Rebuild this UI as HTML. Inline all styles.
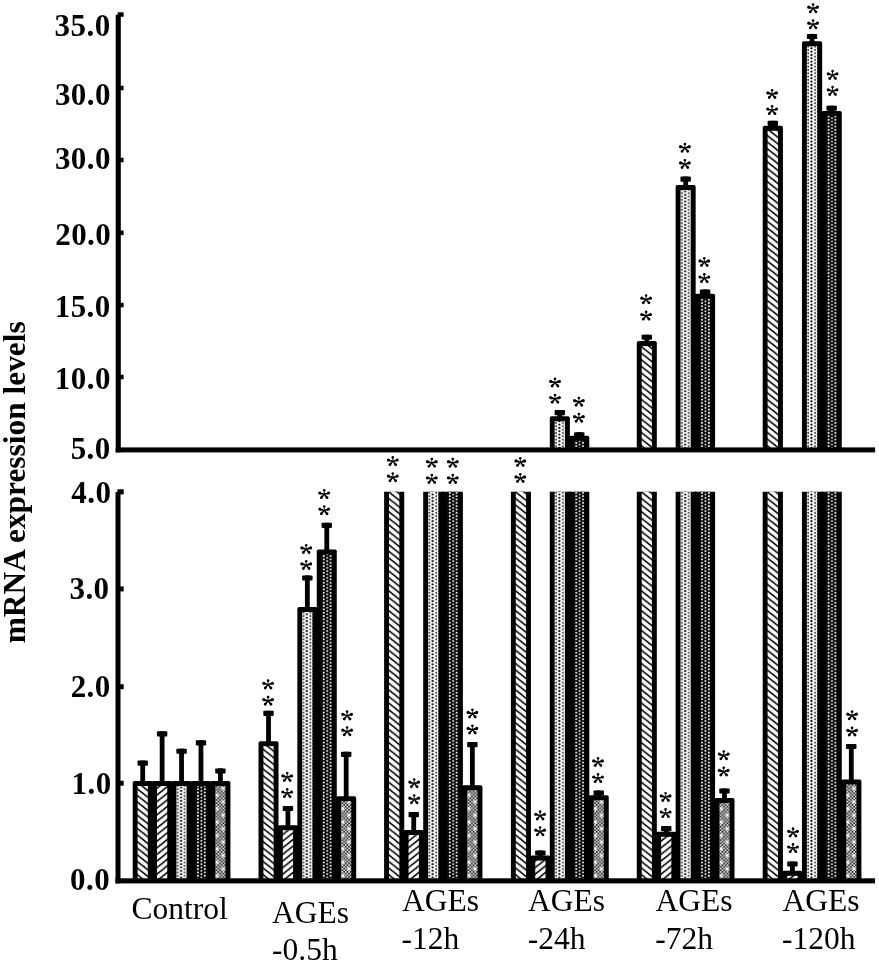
<!DOCTYPE html>
<html><head><meta charset="utf-8"><title>mRNA expression levels</title>
<style>html,body{margin:0;padding:0;background:#fff;}body{width:879px;height:964px;position:relative;overflow:hidden;font-family:"Liberation Serif",serif;}</style>
</head><body>
<svg width="879" height="964" viewBox="0 0 879 964" style="position:absolute;left:0;top:0;will-change:transform">
<defs>
<pattern id="p1" patternUnits="userSpaceOnUse" width="8.25" height="6.6"><rect width="8.25" height="6.6" fill="#fff"/><path d="M-8.25 -6.6L16.5 13.2M-8.25 0L8.25 13.2M0 -6.6L16.5 6.6" stroke="#000" stroke-width="1.65"/></pattern>
<pattern id="p2" patternUnits="userSpaceOnUse" width="8.25" height="6.6"><rect width="8.25" height="6.6" fill="#fff"/><path d="M-8.25 13.2L16.5 -6.6M-8.25 6.6L8.25 -6.6M0 13.2L16.5 0" stroke="#000" stroke-width="1.65"/></pattern>
<pattern id="p3" patternUnits="userSpaceOnUse" width="6.8" height="3.33"><rect width="6.8" height="3.33" fill="#fff"/><circle cx="2.4" cy="1.665" r="1.1" fill="#000"/><circle cx="6.0" cy="0" r="1.05" fill="#444"/><circle cx="6.0" cy="3.33" r="1.05" fill="#444"/></pattern>
<pattern id="p4" patternUnits="userSpaceOnUse" width="6.8" height="3.33"><rect width="6.8" height="3.33" fill="#000"/><circle cx="6.7" cy="0" r="1.0" fill="#fff"/><circle cx="6.7" cy="3.33" r="1.0" fill="#fff"/><circle cx="-0.1" cy="0" r="1.0" fill="#fff"/><circle cx="-0.1" cy="3.33" r="1.0" fill="#fff"/><circle cx="3.3" cy="1.665" r="1.0" fill="#ddd"/></pattern>
<pattern id="p5c" patternUnits="userSpaceOnUse" width="3.4" height="3.4"><rect width="3.4" height="3.4" fill="#f4f4f4"/><rect width="1.7" height="1.7" fill="#151515"/><rect x="1.7" y="1.7" width="1.7" height="1.7" fill="#151515"/></pattern>
<pattern id="p5" patternUnits="userSpaceOnUse" width="19.5" height="13.4"><rect width="19.5" height="13.4" fill="url(#p5c)"/><path d="M6.2 2.4L8.1 4.6 6.2 6.8 4.3 4.6ZM12.6 9L14.5 11.2 12.6 13.4 10.7 11.2ZM12.6 -4.4L14.5 -2.2 12.6 0 10.7 -2.2Z" fill="#fff"/></pattern>
<path id="st" d="M0.45 0L0.45 -3.9L-0.45 -3.9L-0.45 -0ZM-1.35 -3.9A1.35 1.35 0 1 0 1.35 -3.9A1.35 1.35 0 1 0 -1.35 -3.9ZM0.13 -0.43L-3.98 -2.59L-4.75 0L-0.13 0.43ZM-5.96 -1.29A1.6 1.6 0 1 0 -2.76 -1.29A1.6 1.6 0 1 0 -5.96 -1.29ZM0.13 0.43L4.75 0L3.98 -2.59L-0.13 -0.43ZM2.76 -1.29A1.6 1.6 0 1 0 5.96 -1.29A1.6 1.6 0 1 0 2.76 -1.29ZM-0.34 -0.29L-3.77 2.57L-1.95 4.13L0.34 0.29ZM-4.31 3.35A1.45 1.45 0 1 0 -1.41 3.35A1.45 1.45 0 1 0 -4.31 3.35ZM-0.34 0.29L1.95 4.13L3.77 2.57L0.34 -0.29ZM1.41 3.35A1.45 1.45 0 1 0 4.31 3.35A1.45 1.45 0 1 0 1.41 3.35ZM-0.85 0.2A0.85 0.85 0 1 0 0.85 0.2A0.85 0.85 0 1 0 -0.85 0.2Z"/>
<clipPath id="cl"><rect x="0" y="491.7" width="879" height="394.15"/></clipPath>
<clipPath id="cu"><rect x="0" y="0" width="879" height="452.4"/></clipPath>
</defs>
<g clip-path="url(#cl)"><rect x="140.31" y="760.6" width="4.8" height="21.4" fill="#000"/><rect x="137.51" y="760.6" width="10.4" height="5.1" fill="#000" rx="0.8"/><g transform="translate(133 0)"><rect x="-0.3" y="781" width="20.02" height="99.85" fill="#000" rx="1.8"/><rect x="4.6" y="786" width="10.22" height="94.85" fill="url(#p1)"/></g><rect x="159.73" y="731.3" width="4.8" height="50.7" fill="#000"/><rect x="156.93" y="731.3" width="10.4" height="5.1" fill="#000" rx="0.8"/><g transform="translate(152.42 0)"><rect x="-0.3" y="781" width="20.02" height="99.85" fill="#000" rx="1.8"/><rect x="4.6" y="786" width="10.22" height="94.85" fill="url(#p2)"/></g><rect x="179.15" y="748.7" width="4.8" height="33.3" fill="#000"/><rect x="176.35" y="748.7" width="10.4" height="5.1" fill="#000" rx="0.8"/><g transform="translate(171.84 0)"><rect x="-0.3" y="781" width="20.02" height="99.85" fill="#000" rx="1.8"/><rect x="4.6" y="786" width="10.22" height="94.85" fill="url(#p3)"/></g><rect x="198.57" y="740.3" width="4.8" height="41.7" fill="#000"/><rect x="195.77" y="740.3" width="10.4" height="5.1" fill="#000" rx="0.8"/><g transform="translate(191.26 0)"><rect x="-0.3" y="781" width="20.02" height="99.85" fill="#000" rx="1.8"/><rect x="4.6" y="786" width="10.22" height="94.85" fill="url(#p4)"/></g><rect x="217.99" y="768.4" width="4.8" height="13.6" fill="#000"/><rect x="215.19" y="768.4" width="10.4" height="5.1" fill="#000" rx="0.8"/><g transform="translate(210.68 0)"><rect x="-0.3" y="781" width="20.02" height="99.85" fill="#000" rx="1.8"/><rect x="4.6" y="786" width="10.22" height="94.85" fill="url(#p5)"/></g><rect x="266.11" y="710.8" width="4.8" height="31.4" fill="#000"/><rect x="263.31" y="710.8" width="10.4" height="5.1" fill="#000" rx="0.8"/><g transform="translate(258.8 0)"><rect x="-0.3" y="741.2" width="20.02" height="139.65" fill="#000" rx="1.8"/><rect x="4.6" y="746.2" width="10.22" height="134.65" fill="url(#p1)"/></g><rect x="285.53" y="806" width="4.8" height="20.2" fill="#000"/><rect x="282.73" y="806" width="10.4" height="5.1" fill="#000" rx="0.8"/><g transform="translate(278.22 0)"><rect x="-0.3" y="825.2" width="20.02" height="55.65" fill="#000" rx="1.8"/><rect x="4.6" y="830.2" width="10.22" height="50.65" fill="url(#p2)"/></g><rect x="304.95" y="575.5" width="4.8" height="32.5" fill="#000"/><rect x="302.15" y="575.5" width="10.4" height="5.1" fill="#000" rx="0.8"/><g transform="translate(297.64 0)"><rect x="-0.3" y="607" width="20.02" height="273.85" fill="#000" rx="1.8"/><rect x="4.6" y="612" width="10.22" height="268.85" fill="url(#p3)"/></g><rect x="324.37" y="522.8" width="4.8" height="27.6" fill="#000"/><rect x="321.57" y="522.8" width="10.4" height="5.1" fill="#000" rx="0.8"/><g transform="translate(317.06 0)"><rect x="-0.3" y="549.4" width="20.02" height="331.45" fill="#000" rx="1.8"/><rect x="4.6" y="554.4" width="10.22" height="326.45" fill="url(#p4)"/></g><rect x="343.79" y="751.8" width="4.8" height="45.4" fill="#000"/><rect x="340.99" y="751.8" width="10.4" height="5.1" fill="#000" rx="0.8"/><g transform="translate(336.48 0)"><rect x="-0.3" y="796.2" width="20.02" height="84.65" fill="#000" rx="1.8"/><rect x="4.6" y="801.2" width="10.22" height="79.65" fill="url(#p5)"/></g><g transform="translate(384.4 0)"><rect x="-0.3" y="481.7" width="20.15" height="399.15" fill="#000" rx="1.8"/><rect x="4.6" y="481.7" width="10.35" height="399.15" fill="url(#p1)"/></g><rect x="411.32" y="812.1" width="4.8" height="18.9" fill="#000"/><rect x="408.52" y="812.1" width="10.4" height="5.1" fill="#000" rx="0.8"/><g transform="translate(403.95 0)"><rect x="-0.3" y="830" width="20.15" height="50.85" fill="#000" rx="1.8"/><rect x="4.6" y="835" width="10.35" height="45.85" fill="url(#p2)"/></g><g transform="translate(423.5 0)"><rect x="-0.3" y="481.7" width="20.15" height="399.15" fill="#000" rx="1.8"/><rect x="4.6" y="481.7" width="10.35" height="399.15" fill="url(#p3)"/></g><g transform="translate(443.05 0)"><rect x="-0.3" y="481.7" width="20.15" height="399.15" fill="#000" rx="1.8"/><rect x="4.6" y="481.7" width="10.35" height="399.15" fill="url(#p4)"/></g><rect x="469.97" y="742.1" width="4.8" height="44.1" fill="#000"/><rect x="467.17" y="742.1" width="10.4" height="5.1" fill="#000" rx="0.8"/><g transform="translate(462.6 0)"><rect x="-0.3" y="785.2" width="20.15" height="95.65" fill="#000" rx="1.8"/><rect x="4.6" y="790.2" width="10.35" height="90.65" fill="url(#p5)"/></g><g transform="translate(511.2 0)"><rect x="-0.3" y="481.7" width="20.05" height="399.15" fill="#000" rx="1.8"/><rect x="4.6" y="481.7" width="10.25" height="399.15" fill="url(#p1)"/></g><rect x="537.98" y="850.5" width="4.8" height="6.1" fill="#000"/><rect x="535.17" y="850.5" width="10.4" height="5.1" fill="#000" rx="0.8"/><g transform="translate(530.65 0)"><rect x="-0.3" y="855.6" width="20.05" height="25.25" fill="#000" rx="1.8"/><rect x="4.6" y="860.6" width="10.25" height="20.25" fill="url(#p2)"/></g><g transform="translate(550.1 0)"><rect x="-0.3" y="481.7" width="20.05" height="399.15" fill="#000" rx="1.8"/><rect x="4.6" y="481.7" width="10.25" height="399.15" fill="url(#p3)"/></g><g transform="translate(569.55 0)"><rect x="-0.3" y="481.7" width="20.05" height="399.15" fill="#000" rx="1.8"/><rect x="4.6" y="481.7" width="10.25" height="399.15" fill="url(#p4)"/></g><rect x="596.33" y="790.4" width="4.8" height="5.8" fill="#000"/><rect x="593.52" y="790.4" width="10.4" height="5.1" fill="#000" rx="0.8"/><g transform="translate(589 0)"><rect x="-0.3" y="795.2" width="20.05" height="85.65" fill="#000" rx="1.8"/><rect x="4.6" y="800.2" width="10.25" height="80.65" fill="url(#p5)"/></g><g transform="translate(637.1 0)"><rect x="-0.3" y="481.7" width="20.02" height="399.15" fill="#000" rx="1.8"/><rect x="4.6" y="481.7" width="10.22" height="399.15" fill="url(#p1)"/></g><rect x="663.83" y="826.1" width="4.8" height="6.7" fill="#000"/><rect x="661.03" y="826.1" width="10.4" height="5.1" fill="#000" rx="0.8"/><g transform="translate(656.52 0)"><rect x="-0.3" y="831.8" width="20.02" height="49.05" fill="#000" rx="1.8"/><rect x="4.6" y="836.8" width="10.22" height="44.05" fill="url(#p2)"/></g><g transform="translate(675.94 0)"><rect x="-0.3" y="481.7" width="20.02" height="399.15" fill="#000" rx="1.8"/><rect x="4.6" y="481.7" width="10.22" height="399.15" fill="url(#p3)"/></g><g transform="translate(695.36 0)"><rect x="-0.3" y="481.7" width="20.02" height="399.15" fill="#000" rx="1.8"/><rect x="4.6" y="481.7" width="10.22" height="399.15" fill="url(#p4)"/></g><rect x="722.09" y="788.5" width="4.8" height="10.5" fill="#000"/><rect x="719.29" y="788.5" width="10.4" height="5.1" fill="#000" rx="0.8"/><g transform="translate(714.78 0)"><rect x="-0.3" y="798" width="20.02" height="82.85" fill="#000" rx="1.8"/><rect x="4.6" y="803" width="10.22" height="77.85" fill="url(#p5)"/></g><g transform="translate(763 0)"><rect x="-0.3" y="481.7" width="20.22" height="399.15" fill="#000" rx="1.8"/><rect x="4.6" y="481.7" width="10.42" height="399.15" fill="url(#p1)"/></g><rect x="790.03" y="861.5" width="4.8" height="10.3" fill="#000"/><rect x="787.23" y="861.5" width="10.4" height="5.1" fill="#000" rx="0.8"/><g transform="translate(782.62 0)"><rect x="-0.3" y="870.8" width="20.22" height="10.05" fill="#000" rx="1.8"/><rect x="4.6" y="875.8" width="10.42" height="5.05" fill="url(#p2)"/></g><g transform="translate(802.24 0)"><rect x="-0.3" y="481.7" width="20.22" height="399.15" fill="#000" rx="1.8"/><rect x="4.6" y="481.7" width="10.42" height="399.15" fill="url(#p3)"/></g><g transform="translate(821.86 0)"><rect x="-0.3" y="481.7" width="20.22" height="399.15" fill="#000" rx="1.8"/><rect x="4.6" y="481.7" width="10.42" height="399.15" fill="url(#p4)"/></g><rect x="848.89" y="744" width="4.8" height="36.4" fill="#000"/><rect x="846.09" y="744" width="10.4" height="5.1" fill="#000" rx="0.8"/><g transform="translate(841.48 0)"><rect x="-0.3" y="779.4" width="20.22" height="101.45" fill="#000" rx="1.8"/><rect x="4.6" y="784.4" width="10.42" height="96.45" fill="url(#p5)"/></g><g fill="#000"><rect x="151.42" y="781.5" width="2" height="99.35"/><rect x="170.84" y="781.5" width="2" height="99.35"/><rect x="190.26" y="781.5" width="2" height="99.35"/><rect x="209.68" y="781.5" width="2" height="99.35"/><rect x="277.22" y="825.7" width="2" height="55.15"/><rect x="296.64" y="825.7" width="2" height="55.15"/><rect x="316.06" y="607.5" width="2" height="273.35"/><rect x="335.48" y="796.7" width="2" height="84.15"/><rect x="402.95" y="830.5" width="2" height="50.35"/><rect x="422.5" y="830.5" width="2" height="50.35"/><rect x="442.05" y="482.2" width="2" height="398.65"/><rect x="461.6" y="785.7" width="2" height="95.15"/><rect x="529.65" y="856.1" width="2" height="24.75"/><rect x="549.1" y="856.1" width="2" height="24.75"/><rect x="568.55" y="482.2" width="2" height="398.65"/><rect x="588" y="795.7" width="2" height="85.15"/><rect x="655.52" y="832.3" width="2" height="48.55"/><rect x="674.94" y="832.3" width="2" height="48.55"/><rect x="694.36" y="482.2" width="2" height="398.65"/><rect x="713.78" y="798.5" width="2" height="82.35"/><rect x="781.62" y="871.3" width="2" height="9.55"/><rect x="801.24" y="871.3" width="2" height="9.55"/><rect x="820.86" y="482.2" width="2" height="398.65"/><rect x="840.48" y="779.9" width="2" height="100.95"/></g></g>
<rect x="557.43" y="410.1" width="4.8" height="7.2" fill="#000"/><rect x="554.62" y="410.1" width="10.4" height="5.1" fill="#000" rx="0.8"/><g transform="translate(550.1 0)"><rect x="-0.3" y="416.3" width="20.05" height="35.6" fill="#000" rx="1.8"/><rect x="4.6" y="421.3" width="10.25" height="30.6" fill="url(#p3)"/></g><rect x="576.88" y="432.2" width="4.8" height="4.5" fill="#000"/><rect x="574.07" y="432.2" width="10.4" height="5.1" fill="#000" rx="0.8"/><g transform="translate(569.55 0)"><rect x="-0.3" y="435.7" width="20.05" height="16.2" fill="#000" rx="1.8"/><rect x="4.6" y="440.7" width="10.25" height="11.2" fill="url(#p4)"/></g><rect x="644.41" y="334.7" width="4.8" height="7.4" fill="#000"/><rect x="641.61" y="334.7" width="10.4" height="5.1" fill="#000" rx="0.8"/><g transform="translate(637.1 0)"><rect x="-0.3" y="341.1" width="20.02" height="110.8" fill="#000" rx="1.8"/><rect x="4.6" y="346.1" width="10.22" height="105.8" fill="url(#p1)"/></g><rect x="683.25" y="176.6" width="4.8" height="9.4" fill="#000"/><rect x="680.45" y="176.6" width="10.4" height="5.1" fill="#000" rx="0.8"/><g transform="translate(675.94 0)"><rect x="-0.3" y="185" width="20.02" height="266.9" fill="#000" rx="1.8"/><rect x="4.6" y="190" width="10.22" height="261.9" fill="url(#p3)"/></g><rect x="702.67" y="289.4" width="4.8" height="5.3" fill="#000"/><rect x="699.87" y="289.4" width="10.4" height="5.1" fill="#000" rx="0.8"/><g transform="translate(695.36 0)"><rect x="-0.3" y="293.7" width="20.02" height="158.2" fill="#000" rx="1.8"/><rect x="4.6" y="298.7" width="10.22" height="153.2" fill="url(#p4)"/></g><rect x="770.41" y="120.8" width="4.8" height="6" fill="#000"/><rect x="767.61" y="120.8" width="10.4" height="5.1" fill="#000" rx="0.8"/><g transform="translate(763 0)"><rect x="-0.3" y="125.8" width="20.22" height="326.1" fill="#000" rx="1.8"/><rect x="4.6" y="130.8" width="10.42" height="321.1" fill="url(#p1)"/></g><rect x="809.65" y="33.9" width="4.8" height="8.4" fill="#000"/><rect x="806.85" y="33.9" width="10.4" height="5.1" fill="#000" rx="0.8"/><g transform="translate(802.24 0)"><rect x="-0.3" y="41.3" width="20.22" height="410.6" fill="#000" rx="1.8"/><rect x="4.6" y="46.3" width="10.42" height="405.6" fill="url(#p3)"/></g><rect x="829.27" y="105.7" width="4.8" height="6.3" fill="#000"/><rect x="826.47" y="105.7" width="10.4" height="5.1" fill="#000" rx="0.8"/><g transform="translate(821.86 0)"><rect x="-0.3" y="111" width="20.22" height="340.9" fill="#000" rx="1.8"/><rect x="4.6" y="116" width="10.42" height="335.9" fill="url(#p4)"/></g><g fill="#000"><rect x="568.55" y="436.2" width="2" height="15.7"/><rect x="694.36" y="294.2" width="2" height="157.7"/><rect x="820.86" y="111.5" width="2" height="340.4"/></g>
<g fill="#000"><use href="#st" x="268.1" y="684.6"/><use href="#st" x="268.1" y="700.9"/><use href="#st" x="287.2" y="777.2"/><use href="#st" x="287.2" y="793.3"/><use href="#st" x="306.2" y="549.2"/><use href="#st" x="306.2" y="565.2"/><use href="#st" x="324.2" y="494.3"/><use href="#st" x="324.2" y="510.4"/><use href="#st" x="347.1" y="715.6"/><use href="#st" x="347.1" y="731.5"/><use href="#st" x="392.8" y="461.3"/><use href="#st" x="392.8" y="477.4"/><use href="#st" x="414.2" y="783.4"/><use href="#st" x="414.2" y="799.5"/><use href="#st" x="431.8" y="463"/><use href="#st" x="431.8" y="479.1"/><use href="#st" x="452.8" y="463"/><use href="#st" x="452.8" y="479.1"/><use href="#st" x="472.4" y="713.7"/><use href="#st" x="472.4" y="729.7"/><use href="#st" x="520.3" y="462.2"/><use href="#st" x="520.3" y="478.2"/><use href="#st" x="540.1" y="815.6"/><use href="#st" x="540.1" y="831.5"/><use href="#st" x="555" y="382.7"/><use href="#st" x="555" y="398.9"/><use href="#st" x="578.9" y="401.9"/><use href="#st" x="578.9" y="418"/><use href="#st" x="598" y="762.2"/><use href="#st" x="598" y="778.3"/><use href="#st" x="646.1" y="299.5"/><use href="#st" x="646.1" y="315.8"/><use href="#st" x="665.6" y="797.2"/><use href="#st" x="665.6" y="813.3"/><use href="#st" x="684.9" y="148"/><use href="#st" x="684.9" y="164.2"/><use href="#st" x="704.3" y="262.2"/><use href="#st" x="704.3" y="278.3"/><use href="#st" x="723.7" y="755.4"/><use href="#st" x="723.7" y="771.7"/><use href="#st" x="772.1" y="94.2"/><use href="#st" x="772.1" y="110.3"/><use href="#st" x="793" y="832.6"/><use href="#st" x="793" y="848.3"/><use href="#st" x="813.1" y="8.5"/><use href="#st" x="813.1" y="24.5"/><use href="#st" x="832.6" y="75.1"/><use href="#st" x="832.6" y="91.1"/><use href="#st" x="852.1" y="715.5"/><use href="#st" x="852.1" y="731.7"/></g>
<g fill="#000">
<rect x="115.7" y="14.8" width="5.1" height="437.6"/>
<rect x="115.7" y="447.4" width="759.4" height="5"/>
<rect x="117.6" y="12.3" width="6" height="4.5"/>
<rect x="116" y="85.7" width="7.6" height="4.6"/>
<rect x="116" y="157.7" width="7.6" height="4.6"/>
<rect x="116" y="230.5" width="7.6" height="4.6"/>
<rect x="116" y="302.8" width="7.6" height="4.6"/>
<rect x="116" y="374.7" width="7.6" height="4.6"/>
<rect x="115.5" y="492" width="5" height="391.4"/>
<rect x="115.5" y="878.3" width="759.5" height="5.1"/>
<rect x="117.4" y="489.3" width="6.3" height="5.1"/>
<rect x="116" y="586.4" width="7.7" height="5"/>
<rect x="116" y="684.2" width="7.7" height="5"/>
<rect x="116" y="780.7" width="7.7" height="5"/>
</g>
<g font-family="Liberation Serif" font-weight="bold" font-size="31" text-anchor="end" fill="#000" letter-spacing="0.45">
<text x="110.65" y="36">35.0</text>
<text x="110.95" y="105">30.0</text>
<text x="110.95" y="169">30.0</text>
<text x="111.25" y="245">20.0</text>
<text x="110.75" y="316.8">15.0</text>
<text x="110.85" y="388.7">10.0</text>
<text x="110.75" y="458.5">5.0</text>
<text x="111.45" y="503.1">4.0</text>
<text x="109.55" y="599.3">3.0</text>
<text x="110.75" y="697">2.0</text>
<text x="111.65" y="794.4">1.0</text>
<text x="110.15" y="889.5">0.0</text>
</g>
<g font-family="Liberation Serif" font-size="31.5" fill="#000">
<text x="131.5" y="918.5">Control</text>
<text x="271.9" y="922.8">AGEs</text>
<text x="272.1" y="960.4">-0.5h</text>
<text x="401.9" y="911">AGEs</text>
<text x="401.5" y="948.9">-12h</text>
<text x="528.1" y="911">AGEs</text>
<text x="527.8" y="948.9">-24h</text>
<text x="655.6" y="911">AGEs</text>
<text x="655.3" y="948.9">-72h</text>
<text x="782.5" y="911">AGEs</text>
<text x="782.1" y="948.9">-120h</text>
</g>
<text transform="translate(24.6 482.3) rotate(-90)" text-anchor="middle" font-family="Liberation Serif" font-weight="bold" font-size="31.4" fill="#000">mRNA expression levels</text>
</svg>
</body></html>
